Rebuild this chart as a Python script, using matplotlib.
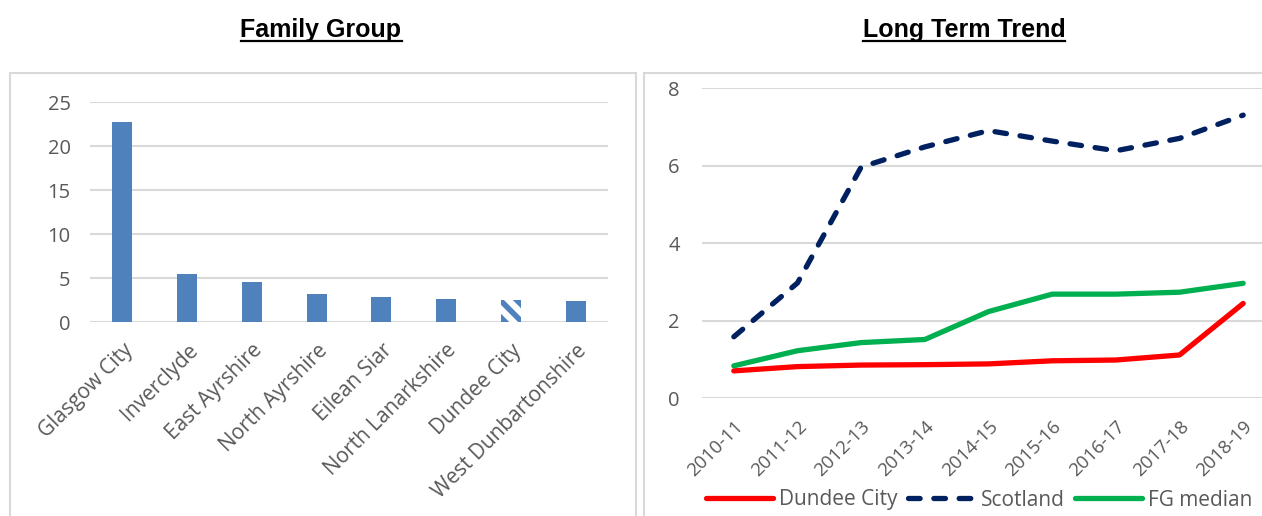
import numpy as np
import matplotlib.pyplot as plt
from matplotlib.patches import Rectangle

plt.rcParams['font.family'] = ['Open Sans', 'DejaVu Sans']
plt.rcParams['hatch.linewidth'] = 4

# data
areas = ['Glasgow City', 'Inverclyde', 'East Ayrshire', 'North Ayrshire', 'Eilean Siar',
         'North Lanarkshire', 'Dundee City', 'West Dunbartonshire']
area_vals = [22.7, 5.5, 4.5, 3.2, 2.8, 2.6, 2.5, 2.4]

years = ['2010-11', '2011-12', '2012-13', '2013-14', '2014-15', '2015-16', '2016-17', '2017-18', '2018-19']
dundee = [0.70, 0.81, 0.85, 0.86, 0.88, 0.96, 0.98, 1.11, 2.44]
scotland = [1.58, 2.97, 5.96, 6.48, 6.90, 6.63, 6.38, 6.70, 7.30]
fg_median = [0.83, 1.22, 1.43, 1.51, 2.23, 2.68, 2.68, 2.73, 2.96]

W, H = 1262, 516
fig = plt.figure(figsize=(W / 100, H / 100), dpi=100)

def box(x0, y0, x1, y1):
    return [x0 / W, 1 - y1 / H, (x1 - x0) / W, (y1 - y0) / H]

# panel borders
for x0, x1 in [(10, 636), (644, 1300)]:
    fig.add_artist(Rectangle((x0 / W, -0.1), (x1 - x0) / W, 1 - 73 / H + 0.1,
                             transform=fig.transFigure, fill=False,
                             edgecolor='#d9d9d9', linewidth=1.5))

grey = '#595959'
blue = '#4F81BD'

# titles, underlined
titles = []
for cx, t in [(321, 'Family Group'), (964, 'Long Term Trend')]:
    titles.append(fig.text(cx / W, 1 - 37 / H, t, ha='center', va='baseline',
                           fontsize=18, fontweight='bold', family='Liberation Sans'))
fig.canvas.draw()
r = fig.canvas.get_renderer()
for t in titles:
    bb = t.get_window_extent(r)
    fig.add_artist(plt.Line2D([bb.x0 / W, bb.x1 / W], [1 - 41 / H] * 2,
                              color='black', linewidth=1.6, transform=fig.transFigure))

# left: bar chart
ax1 = fig.add_axes(box(90, 102, 608, 322))
x = np.arange(len(areas))
bars = ax1.bar(x, area_vals, width=0.31, color=blue, zorder=3)
hb = bars[areas.index('Dundee City')]
hb.set_facecolor('white')
hb.set_edgecolor(blue)
hb.set_hatch('\\\\')
hb.set_linewidth(0)
ax1.set_xlim(-0.5, len(areas) - 0.5)
ax1.set_ylim(0, 25)
ax1.set_yticks([0, 5, 10, 15, 20, 25])
ax1.grid(axis='y', color='#d9d9d9', linewidth=1.5, zorder=0)
ax1.set_xticks(x)
ax1.set_xticklabels(areas, rotation=45, ha='right', rotation_mode='anchor')
ax1.tick_params(axis='x', length=0, labelsize=15, labelcolor=grey, pad=13)
ax1.tick_params(axis='y', length=0, labelsize=14.5, labelcolor=grey, pad=14)
for s in ax1.spines.values():
    s.set_visible(False)

# right: line chart
ax2 = fig.add_axes(box(702, 88, 1275, 398))
xi = np.arange(len(years))
ax2.plot(xi, dundee, color='#FF0000', linewidth=3.8, label='Dundee City',
         solid_capstyle='round', zorder=3)
ax2.plot(xi, scotland, color='#002060', linewidth=3.8, linestyle=(0, (2.2, 2.6)),
         label='Scotland', dash_capstyle='round', zorder=3)
ax2.plot(xi, fg_median, color='#00B050', linewidth=3.8, label='FG median',
         solid_capstyle='round', zorder=3)
ax2.set_xlim(-0.5, len(years) - 0.5)
ax2.set_ylim(0, 8)
ax2.set_yticks([0, 2, 4, 6, 8])
ax2.grid(axis='y', color='#d9d9d9', linewidth=1.5, zorder=0)
ax2.set_xticks(xi)
ax2.set_xticklabels(years, rotation=45, ha='right', rotation_mode='anchor')
ax2.tick_params(axis='x', length=0, labelsize=13.5, labelcolor=grey, pad=14)
ax2.tick_params(axis='y', length=0, labelsize=14.5, labelcolor=grey, pad=16)
for s in ax2.spines.values():
    s.set_visible(False)
ax2.legend(loc='center', bbox_to_anchor=(979 / W, 1 - 500 / H),
           bbox_transform=fig.transFigure, ncol=3, frameon=False,
           fontsize=15, labelcolor=grey, handlelength=3.2, handletextpad=0.3,
           columnspacing=0.5)

fig.savefig('out.png', dpi=100)
